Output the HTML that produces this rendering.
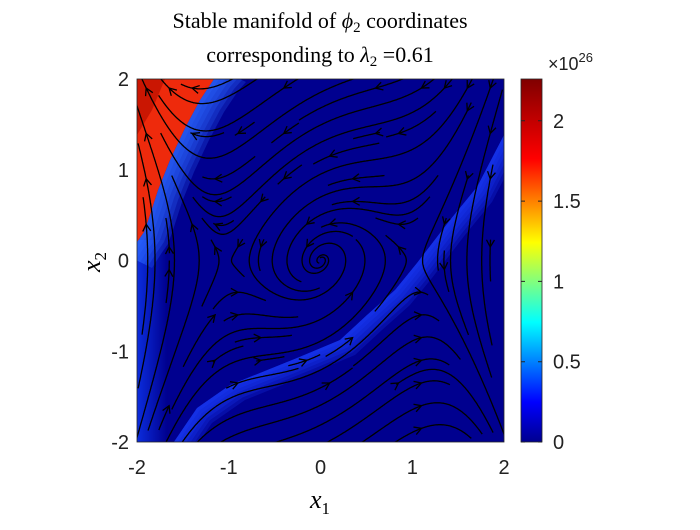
<!DOCTYPE html>
<html><head><meta charset="utf-8"><style>
body{margin:0;background:#fff;width:700px;height:525px;overflow:hidden}
svg text{font-family:"Liberation Sans",sans-serif}
.ser{font-family:"Liberation Serif",serif}
</style></head><body>
<svg id="chart" width="700" height="525" viewBox="0 0 700 525" xmlns="http://www.w3.org/2000/svg">
<defs>
<linearGradient id="jet" x1="0" y1="1" x2="0" y2="0">
<stop offset="0" stop-color="#00008f"/><stop offset="0.11" stop-color="#0000ff"/>
<stop offset="0.33" stop-color="#00ffff"/><stop offset="0.55" stop-color="#ffff00"/>
<stop offset="0.78" stop-color="#ff0000"/><stop offset="1" stop-color="#800000"/>
</linearGradient>
<linearGradient id="leftg" x1="0" y1="0" x2="1" y2="0">
<stop offset="0" stop-color="#1040ff"/><stop offset="1" stop-color="#1040ff" stop-opacity="0"/>
</linearGradient>
<clipPath id="pc"><rect x="137" y="79" width="367" height="363"/></clipPath>
</defs>
<text class="ser" x="320" y="28" font-size="22" text-anchor="middle">Stable manifold of <tspan font-style="italic">ϕ</tspan><tspan font-size="15" dy="4">2</tspan><tspan dy="-4"> coordinates</tspan></text>
<text class="ser" x="320" y="62" font-size="22" text-anchor="middle">corresponding to <tspan font-style="italic">λ</tspan><tspan font-size="15" dy="4">2</tspan><tspan dy="-4"> =0.61</tspan></text>
<g id="field" clip-path="url(#pc)">
<rect x="137" y="79" width="367" height="363" fill="#00008f"/>
<rect x="137" y="240" width="30" height="202" fill="url(#leftg)" opacity="0.7"/>
<g id="shades"></g>
<path d="M137,79 L214,79 L200,100 L185,128 L170,160 L158,190 L150,215 L144,232 L137,242 Z" fill="#ee2a0c"/>
<path d="M137,79 L165,79 L152,110 L137,135 Z" fill="#c01200" opacity="0.8"/>
</g>
<g id="streams" clip-path="url(#pc)" fill="none" stroke="#000" stroke-width="1.3"></g>
<rect x="137" y="79" width="367" height="363" fill="none" stroke="#262626" stroke-width="0.8"/>
<g id="axes" font-size="20" fill="#222"></g>
<text class="ser" x="320" y="508" font-size="26" font-style="italic" text-anchor="middle">x<tspan font-size="17" dy="6" font-style="normal">1</tspan></text>
<text class="ser" transform="translate(100,262) rotate(-90)" font-size="26" font-style="italic" text-anchor="middle">x<tspan font-size="17" dy="6" font-style="normal">2</tspan></text>
<rect x="521" y="79" width="21" height="363" fill="url(#jet)" stroke="#262626" stroke-width="0.8"/>
<g id="cbticks" font-size="20" fill="#222"></g>
<text x="548" y="70" font-size="18" fill="#222">×10<tspan font-size="13" dy="-8">26</tspan></text>
</svg>
<script>
const xTicks=[-2,-1,0,1,2];
const yTicks=[-2,-1,0,1,2];
const cbTicks=[0,0.5,1,1.5,2];
const cbMax=2.26;
const seedX1=[-1.9,-1.65,-1.4,-1.15,-0.9,-0.65,-0.4,-0.15,0.1,0.35,0.6,0.85,1.1,1.35,1.6,1.85];
const seedX2=[1.9,1.65,1.4,1.15,0.9,0.65,0.4,0.15,-0.1,-0.35,-0.6,-0.85,-1.1,-1.35,-1.6,-1.85];
const X0=137,W=367,Y0=442,H=363;
const sx=v=>X0+(v+2)/4*W, sy=v=>Y0-(v+2)/4*H;
const NS='http://www.w3.org/2000/svg';
const bandShape=[[165,455],[197,408],[230,385],[297,358],[340,340],[367,315],[395,290],[417,263],[450,220],[477,187],[504,135],[515,110]];
const redShape=[[222,70],[214,79],[200,100],[185,128],[170,160],[158,190],[150,215],[144,232],[137,242],[128,256]];
const sh=document.getElementById('shades');
function shade(pts,dx,dy,steps,color,op){for(let k=1;k<=steps;k++){const ox=dx*k,oy=dy*k;
const poly=pts.map(p=>p.join(',')).concat(pts.slice().reverse().map(p=>(p[0]+ox)+','+(p[1]+oy)));
const e=document.createElementNS(NS,'polygon');


e.setAttribute('points',poly.join(' '));e.setAttribute('fill',color);e.setAttribute('opacity',op);sh.appendChild(e);}}
shade(bandShape,2.5,2.5,6,'#1a40ff',0.22);
shade(redShape,4,2,6,'#2a66ff',0.25);
const ax=document.getElementById('axes');
xTicks.forEach(t=>{const e=document.createElementNS(NS,'text');


e.setAttribute('x',sx(t));e.setAttribute('y',474);e.setAttribute('text-anchor','middle');e.textContent=t;ax.appendChild(e);});
yTicks.forEach(t=>{const e=document.createElementNS(NS,'text');


e.setAttribute('x',129);e.setAttribute('y',sy(t)+7);e.setAttribute('text-anchor','end');e.textContent=t;ax.appendChild(e);});
const cb=document.getElementById('cbticks');
cbTicks.forEach(t=>{const y=Y0-t/cbMax*H;const e=document.createElementNS(NS,'text');


e.setAttribute('x',553);e.setAttribute('y',y+7);e.textContent=t;cb.appendChild(e);
const l=document.createElementNS(NS,'path');


l.setAttribute('d',`M521,${y}h4M542,${y}h-4`);l.setAttribute('stroke','#262626');cb.appendChild(l);});
function f(x,y){return [-y, x-x*x*x-0.5*y];}
const N=34,occ=new Array(N*N).fill(-1);
const cell=(x,y)=>{const i=Math.floor((x+2)/4*N),j=Math.floor((y+2)/4*N);if(i<0||j<0||i>=N||j>=N)return -1;return j*N+i;};
function integ(x,y,dir,id){const pts=[[x,y]];const h=0.01*dir;
function g(a,b){const v=f(a,b);const n=Math.hypot(v[0],v[1])||1e-9;return [v[0]/n,v[1]/n];}
for(let i=0;i<1500;i++){const k1=g(x,y),k2=g(x+h*k1[0]/2,y+h*k1[1]/2),k3=g(x+h*k2[0]/2,y+h*k2[1]/2),k4=g(x+h*k3[0],y+h*k3[1]);
x+=h*(k1[0]+2*k2[0]+2*k3[0]+k4[0])/6;y+=h*(k1[1]+2*k2[1]+2*k3[1]+k4[1])/6;
if(Math.abs(x)>2.02||Math.abs(y)>2.02){pts.push([x,y]);break;}
if(x*x+y*y<0.0008)break;
if(Math.abs(x-1)+Math.abs(y)<0.02||Math.abs(x+1)+Math.abs(y)<0.02)break;
const c=cell(x,y);if(c>=0&&occ[c]>=0&&occ[c]!==id&&x*x+y*y>0.08)break;
pts.push([x,y]);}
return pts;}
const gS=document.getElementById('streams');let id=0;
seedX2.forEach(y=>seedX1.forEach(x=>{
const c=cell(x,y);if(c<0||occ[c]>=0)return;
id++;const b=integ(x,y,-1,id).reverse(),fw=integ(x,y,1,id);const pts=b.concat(fw.slice(1));
if(pts.length<25)return;
pts.forEach(q=>{const cc=cell(q[0],q[1]);if(cc>=0&&occ[cc]<0)occ[cc]=id;});
const p=document.createElementNS(NS,'path');


p.setAttribute('d','M'+pts.map(q=>sx(q[0]).toFixed(1)+','+sy(q[1]).toFixed(1)).join('L'));gS.appendChild(p);
const v=f(x,y);const dx=v[0]*W,dy=-v[1]*H;const n=Math.hypot(dx,dy)||1;const ux=dx/n,uy=dy/n;
const cx=sx(x),cy=sy(y);
const a=document.createElementNS(NS,'path');


a.setAttribute('d',`M${cx-7*ux-4*uy},${cy-7*uy+4*ux}L${cx},${cy}L${cx-7*ux+4*uy},${cy-7*uy-4*ux}`);gS.appendChild(a);}));
</script>
</body></html>
